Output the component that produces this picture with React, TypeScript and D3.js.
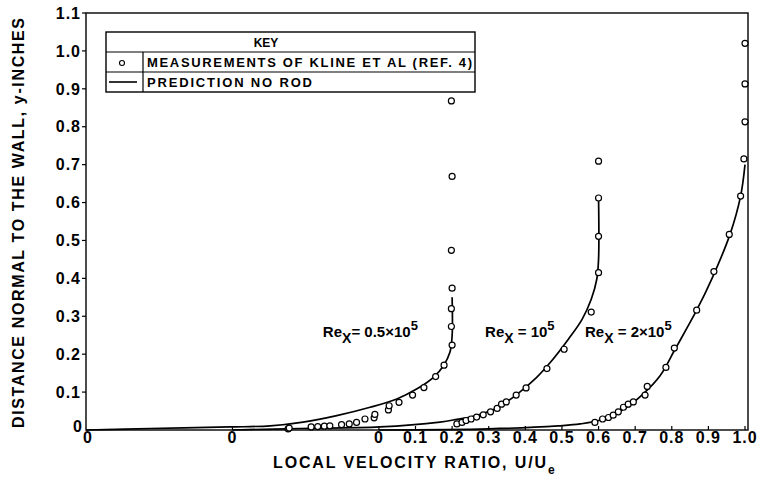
import React from "react";
import * as d3 from "d3";

// ---------- data (U/Ue vs y-inches), three staggered profiles ----------
const profileOffsets = [-0.8, -0.4, 0];

const meas1U = [0.552, 0.555, 0.615, 0.633, 0.651, 0.666, 0.698, 0.719, 0.739, 0.762, 0.787, 0.789, 0.826, 0.828, 0.855, 0.892, 0.923, 0.955, 0.978, 1.0, 0.998, 0.998, 1.0, 0.998, 1.0, 0.998];
const meas1Y = [0.003, 0.005, 0.008, 0.009, 0.010, 0.011, 0.014, 0.016, 0.020, 0.029, 0.032, 0.041, 0.053, 0.064, 0.073, 0.092, 0.112, 0.141, 0.171, 0.224, 0.273, 0.320, 0.374, 0.474, 0.669, 0.868];

const meas2U = [0.613, 0.627, 0.638, 0.652, 0.667, 0.685, 0.705, 0.723, 0.735, 0.748, 0.775, 0.802, 0.859, 0.906, 0.980, 1.0, 1.0, 1.0, 1.0];
const meas2Y = [0.016, 0.020, 0.025, 0.029, 0.034, 0.040, 0.048, 0.057, 0.068, 0.074, 0.092, 0.111, 0.162, 0.213, 0.311, 0.415, 0.511, 0.612, 0.709];

const meas3U = [0.590, 0.611, 0.627, 0.640, 0.654, 0.668, 0.681, 0.695, 0.727, 0.733, 0.784, 0.807, 0.868, 0.915, 0.957, 0.988, 0.997, 1.0, 1.0, 1.0];
const meas3Y = [0.020, 0.029, 0.033, 0.039, 0.048, 0.060, 0.068, 0.074, 0.092, 0.115, 0.165, 0.216, 0.316, 0.418, 0.516, 0.617, 0.715, 0.813, 0.913, 1.02];

const pred1U = [0, 0.175, 0.393, 0.503, 0.593, 0.685, 0.776, 0.849, 0.903, 0.949, 0.976, 0.994, 1.0, 1.0];
const pred1Y = [0, 0.004, 0.008, 0.011, 0.021, 0.038, 0.060, 0.082, 0.108, 0.139, 0.169, 0.205, 0.248, 0.35];

const pred2U = [0, 0.185, 0.403, 0.567, 0.613, 0.658, 0.722, 0.777, 0.831, 0.868, 0.917, 0.955, 0.980, 0.995, 1.0, 1.0];
const pred2Y = [0, 0.004, 0.008, 0.021, 0.028, 0.036, 0.058, 0.094, 0.139, 0.178, 0.239, 0.292, 0.345, 0.397, 0.45, 0.613];

const pred3U = [0, 0.30, 0.49, 0.55, 0.614, 0.677, 0.722, 0.768, 0.809, 0.868, 0.91, 0.959, 0.988, 1.0];
const pred3Y = [0, 0.003, 0.011, 0.016, 0.029, 0.060, 0.095, 0.143, 0.213, 0.316, 0.40, 0.516, 0.617, 0.70];

const xTickValues = [-0.8, -0.4, 0, 0.1, 0.2, 0.3, 0.4, 0.5, 0.6, 0.7, 0.8, 0.9, 1.0];
const xTickLabels = ["0", "0", "0", "0.1", "0.2", "0.3", "0.4", "0.5", "0.6", "0.7", "0.8", "0.9", "1.0"];
const yTickValues = [0.1, 0.2, 0.3, 0.4, 0.5, 0.6, 0.7, 0.8, 0.9, 1.0, 1.1];
const yTickLabels = ["0.1", "0.2", "0.3", "0.4", "0.5", "0.6", "0.7", "0.8", "0.9", "1.0", "1.1"];

const reMain = ["0.5×10", "10", "2×10"];
const reSep = ["= ", " = ", " = "];
const reLabelU = [0.647, 0.69, 0.563]; // left of "Re", in each profile's own U/Ue
const reLabelY = [0.245, 0.245, 0.245];

const legendTitle = "KEY";
const legendMeas = "MEASUREMENTS OF KLINE ET AL (REF. 4)";
const legendPred = "PREDICTION NO ROD";

const FONT = "'Liberation Sans', Arial, Helvetica, sans-serif";

export default function App() {
  const W = 763, H = 479;
  const x = d3.scaleLinear().domain([-0.8, 1.0]).range([86, 745]);
  const y = d3.scaleLinear().domain([0, 1.1]).range([430, 13]);
  const frameL = 86, frameR = 748, frameT = 13, frameB = 430;

  const line = d3
    .line<[number, number]>()
    .x((d) => x(d[0]))
    .y((d) => y(d[1]))
    .curve(d3.curveCatmullRom.alpha(0.5));

  const preds = [
    [pred1U, pred1Y],
    [pred2U, pred2Y],
    [pred3U, pred3Y],
  ];
  const meas = [
    [meas1U, meas1Y],
    [meas2U, meas2Y],
    [meas3U, meas3Y],
  ];

  return (
    <svg
      width={W}
      height={H}
      style={{ position: "absolute", left: 0, top: 0, background: "#fff" }}
      fontFamily={FONT}
      fontWeight="bold"
    >
      <rect x={0} y={0} width={W} height={H} fill="#fff" />
      {/* frame */}
      <rect x={frameL} y={frameT} width={frameR - frameL} height={frameB - frameT} fill="none" stroke="#000" strokeWidth={1.4} />

      {/* y ticks */}
      {yTickValues.map((v, i) => (
        <g key={"yt" + i}>
          <line x1={frameL - 4} x2={frameL} y1={y(v)} y2={y(v)} stroke="#000" strokeWidth={1.2} />
          <text x={81} y={y(v)} dy="0.36em" textAnchor="end" fontSize={16} letterSpacing={1}>
            {yTickLabels[i]}
          </text>
        </g>
      ))}
      <text x={82} y={y(0) - 4} dy="0.36em" textAnchor="end" fontSize={16}>0</text>

      {/* x ticks */}
      {xTickValues.map((v, i) => (
        <g key={"xt" + i}>
          {i > 0 && <line x1={x(v)} x2={x(v)} y1={frameB} y2={frameB - 4} stroke="#000" strokeWidth={1.2} />}
          <text x={x(v) + (i === 0 ? 2 : 0)} y={437} dy="0.36em" textAnchor="middle" fontSize={16} letterSpacing={1}>
            {xTickLabels[i]}
          </text>
        </g>
      ))}

      {/* axis titles */}
      <text x={273} y={468} fontSize={16} textLength={273} lengthAdjust="spacing">
        LOCAL VELOCITY RATIO, U/U
      </text>
      <text x={548} y={474} fontSize={12}>e</text>
      <text
        transform="translate(24,428) rotate(-90)"
        x={0}
        y={0}
        fontSize={16}
        textLength={410}
        lengthAdjust="spacing"
      >
        DISTANCE NORMAL TO THE WALL, y-INCHES
      </text>

      {/* prediction curves */}
      {preds.map(([us, ys], k) => (
        <path
          key={"p" + k}
          d={line(us.map((u, i) => [u + profileOffsets[k], ys[i]] as [number, number])) || ""}
          fill="none"
          stroke="#000"
          strokeWidth={1.7}
        />
      ))}

      {/* measurements */}
      {meas.map(([us, ys], k) =>
        us.map((u, i) => (
          <circle
            key={"m" + k + "-" + i}
            cx={x(u + profileOffsets[k])}
            cy={y(ys[i])}
            r={3}
            fill="#fff"
            stroke="#000"
            strokeWidth={1.2}
          />
        ))
      )}

      {/* Re labels */}
      {reMain.map((m, k) => (
        <text key={"re" + k} x={x(reLabelU[k] + profileOffsets[k])} y={y(reLabelY[k])} fontSize={15}>
          Re
          <tspan dy={6} fontSize={14}>X</tspan>
          <tspan dy={-6}>{reSep[k] + m}</tspan>
          <tspan dy={-7} fontSize={13}>5</tspan>
        </text>
      ))}

      {/* legend */}
      <g>
        <rect x={106} y={32} width={369} height={60} fill="#fff" stroke="#000" strokeWidth={1.4} />
        <line x1={106} x2={475} y1={52} y2={52} stroke="#000" strokeWidth={1.2} />
        <line x1={106} x2={475} y1={72} y2={72} stroke="#000" strokeWidth={1.2} />
        <line x1={143} x2={143} y1={52} y2={92} stroke="#000" strokeWidth={1.2} />
        <text x={266} y={47} textAnchor="middle" fontSize={12}>{legendTitle}</text>
        <circle cx={122} cy={63} r={2.5} fill="#fff" stroke="#000" strokeWidth={1.1} />
        <line x1={109} x2={137} y1={82} y2={82} stroke="#000" strokeWidth={1.6} />
        <text x={147} y={67} fontSize={13} textLength={325} lengthAdjust="spacing">{legendMeas}</text>
        <text x={147} y={87} fontSize={13} textLength={165} lengthAdjust="spacing">{legendPred}</text>
      </g>
    </svg>
  );
}
